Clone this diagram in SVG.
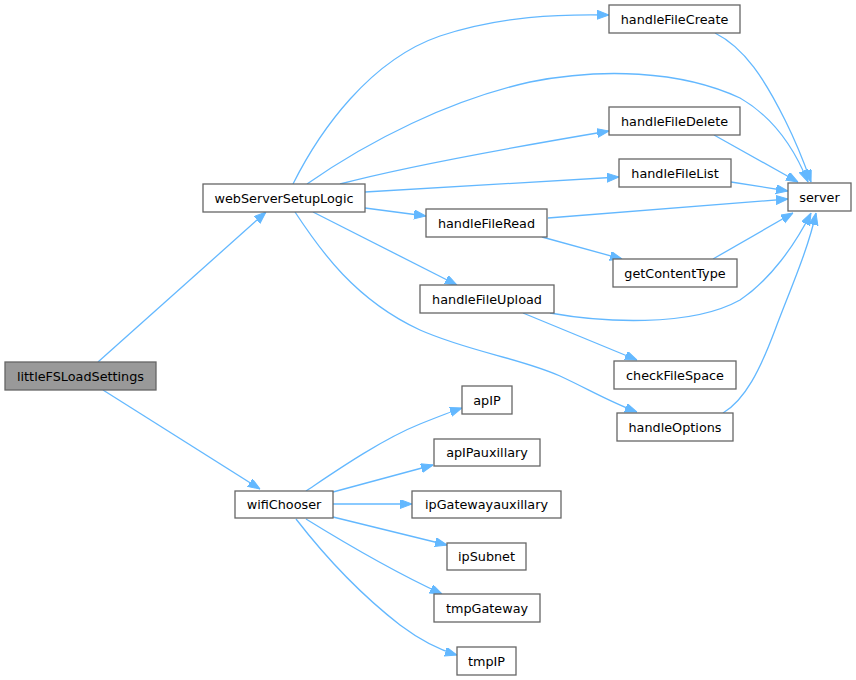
<svg xmlns="http://www.w3.org/2000/svg" width="856" height="680" viewBox="0 0 856 680">
<defs>
<marker id="ah" markerUnits="userSpaceOnUse" markerWidth="12" markerHeight="10" refX="12" refY="4.5" orient="auto">
<path d="M0,0 L12,4.5 L0,9 z" fill="#63b8ff" stroke="#63b8ff" stroke-width="1"/>
</marker>
</defs>
<style>
.n rect{fill:#ffffff;stroke:#666666;stroke-width:1.3}
.n.cur rect{fill:#999999}
.n text{font-family:"DejaVu Sans",sans-serif;font-size:12.8px;fill:#000000;text-anchor:middle}
.e path{fill:none;stroke:#63b8ff;stroke-width:1.3;marker-end:url(#ah)}
</style>
<rect width="856" height="680" fill="#ffffff"/>
<g id="edges" class="e">
<path d="M98,362 L266,212"/>
<path d="M103,390 L260,489"/>
<path d="M293,184 C320,130 370,60 440,36 C500,16 560,14 609,15"/>
<path d="M307,184 C370,140 450,100 530,82 C600,68 680,70 740,98 C775,118 795,150 808,182"/>
<path d="M340,184 C400,168 520,146 609,131"/>
<path d="M365,192 L619,177"/>
<path d="M365,208 L426,216"/>
<path d="M313,212 L457,285"/>
<path d="M295,212 C320,250 355,300 420,330 C470,352 520,358 560,376 C590,390 610,402 637,412"/>
<path d="M715,33 C745,48 765,80 785,120 C795,140 805,165 811,182"/>
<path d="M714,135 L798,182"/>
<path d="M731,182 L788,191"/>
<path d="M548,218 L788,199"/>
<path d="M542,237 L622,259"/>
<path d="M713,259 L793,213"/>
<path d="M550,313 C600,322 690,328 740,300 C770,280 795,245 811,213"/>
<path d="M523,313 L637,360"/>
<path d="M723,413 C745,400 760,370 775,330 C790,290 808,250 816,213"/>
<path d="M306,491 C330,475 380,440 420,424 C435,418 450,412 462,408"/>
<path d="M333,492 L433,465"/>
<path d="M333,504 L412,504"/>
<path d="M333,517 L447,545"/>
<path d="M306,519 C340,540 390,570 442,594"/>
<path d="M296,519 C320,550 355,590 400,625 C420,640 440,650 457,655"/>
</g>
<g id="littleFSLoadSettings" class="n cur"><rect x="5" y="362" width="151" height="28"/><text x="80.5" y="380.5">littleFSLoadSettings</text></g>
<g id="webServerSetupLogic" class="n"><rect x="203" y="184" width="162" height="28"/><text x="284" y="202.5">webServerSetupLogic</text></g>
<g id="handleFileCreate" class="n"><rect x="609" y="5" width="131" height="28"/><text x="674.5" y="23.5">handleFileCreate</text></g>
<g id="handleFileDelete" class="n"><rect x="609" y="107" width="131" height="28"/><text x="674.5" y="125.5">handleFileDelete</text></g>
<g id="handleFileList" class="n"><rect x="619" y="159" width="112" height="28"/><text x="675" y="177.5">handleFileList</text></g>
<g id="server" class="n"><rect x="788" y="183" width="63" height="28"/><text x="819.5" y="201.5">server</text></g>
<g id="handleFileRead" class="n"><rect x="426" y="209" width="121" height="28"/><text x="486.5" y="227.5">handleFileRead</text></g>
<g id="getContentType" class="n"><rect x="613" y="259" width="124" height="28"/><text x="675" y="277.5">getContentType</text></g>
<g id="handleFileUpload" class="n"><rect x="420" y="285" width="134" height="28"/><text x="487" y="303.5">handleFileUpload</text></g>
<g id="checkFileSpace" class="n"><rect x="614" y="361" width="122" height="28"/><text x="675" y="379.5">checkFileSpace</text></g>
<g id="handleOptions" class="n"><rect x="617" y="413" width="116" height="28"/><text x="675" y="431.5">handleOptions</text></g>
<g id="wifiChooser" class="n"><rect x="235" y="491" width="98" height="27"/><text x="284" y="509">wifiChooser</text></g>
<g id="apIP" class="n"><rect x="462" y="386" width="50" height="28"/><text x="487" y="404.5">apIP</text></g>
<g id="apIPauxillary" class="n"><rect x="434" y="439" width="106" height="27"/><text x="487" y="457">apIPauxillary</text></g>
<g id="ipGatewayauxillary" class="n"><rect x="412" y="491" width="149" height="27"/><text x="486.5" y="509">ipGatewayauxillary</text></g>
<g id="ipSubnet" class="n"><rect x="447" y="543" width="79" height="27"/><text x="486.5" y="561">ipSubnet</text></g>
<g id="tmpGateway" class="n"><rect x="434" y="594" width="106" height="28"/><text x="487" y="612.5">tmpGateway</text></g>
<g id="tmpIP" class="n"><rect x="457" y="647" width="59" height="28"/><text x="486.5" y="665.5">tmpIP</text></g>
</svg>
